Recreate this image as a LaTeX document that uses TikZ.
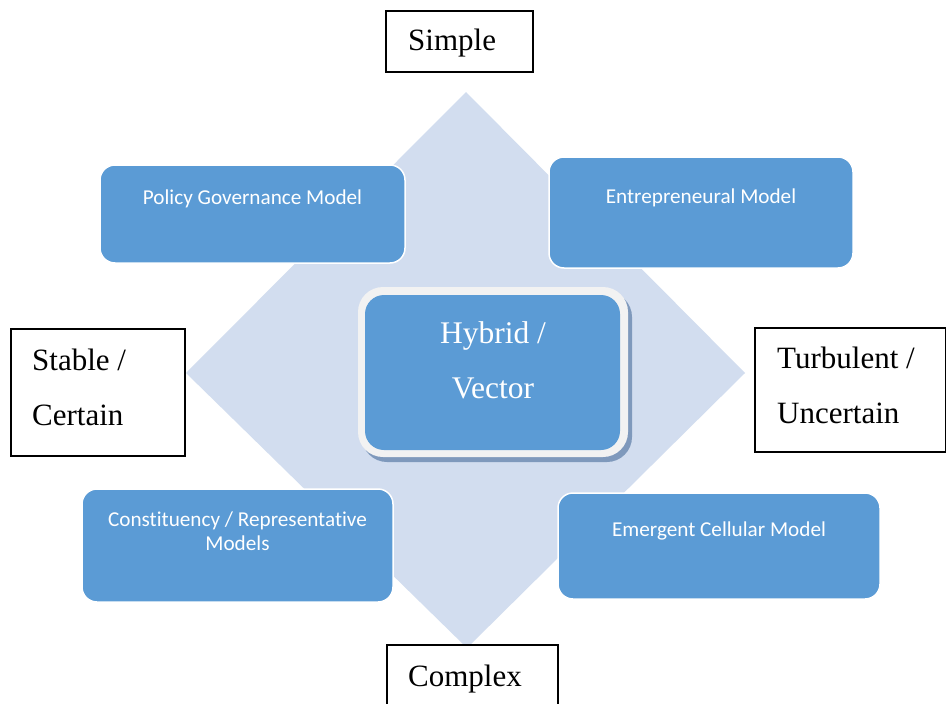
\documentclass[tikz,border=0pt]{standalone}
\usepackage{fontspec}
\setmainfont{Liberation Serif}
\newfontfamily\calib[Ligatures=NoCommon]{Carlito}
\definecolor{boxblue}{HTML}{5B9BD5}
\definecolor{diamondblue}{HTML}{D2DDEF}
\definecolor{shadowblue}{HTML}{7F99BC}
\definecolor{rimwhite}{HTML}{F2F2F2}
\tikzset{
  modelbox/.style={rectangle, rounded corners=15pt, fill=boxblue, draw=white, line width=1.5pt, inner sep=0pt},
  modeltext/.style={font=\calib\fontsize{21.2}{24}\selectfont, text=white, align=center, inner sep=0pt},
  labelbox/.style={rectangle, draw=black, line width=1.3pt, fill=white, inner sep=0pt},
  labeltext/.style={font=\fontsize{31}{55}\selectfont, align=left, inner sep=0pt, anchor=west},
  centertext/.style={font=\fontsize{31.5}{55}\selectfont, text=white, align=center, inner sep=0pt}
}
\begin{document}
\begin{tikzpicture}[x=1pt,y=-1pt]
\clip (0,0) rectangle (946,704);
\fill[white] (0,0) rectangle (946,704);
% diamond
\fill[diamondblue] (466,92) -- (745,373) -- (467,648) -- (186,373) -- cycle;
% model boxes
\node[modelbox, minimum width=305pt, minimum height=98pt] (pg) at (252.5,214) {};
\node[modeltext] (pgt) at (252.5,199) {Policy Governance Model};
\node[modelbox, minimum width=304pt, minimum height=111pt] (en) at (701,212.5) {};
\node[modeltext] (ent) at (701,198) {Entrepreneural Model};
\node[modelbox, minimum width=311pt, minimum height=113pt] (co) at (237.5,545.5) {};
\node[modeltext] (cot) at (237.5,531) {Constituency / Representative\\Models};
\node[modelbox, minimum width=322pt, minimum height=106pt] (em) at (719,546) {};
\node[modeltext] (emt) at (719,531) {Emergent Cellular Model};
% centre box
\node[rectangle, rounded corners=25pt, fill=shadowblue, minimum width=270pt, minimum height=170pt, inner sep=0pt] (hvs) at (497,377) {};
\node[rectangle, rounded corners=25pt, fill=rimwhite, minimum width=270pt, minimum height=170pt, inner sep=0pt] (hvo) at (493,372) {};
\node[rectangle, rounded corners=19pt, fill=boxblue, minimum width=255pt, minimum height=155pt, inner sep=0pt] (hv) at (492.5,372.5) {};
\node[centertext] (hvt) at (493,360) {Hybrid /\\Vector};
% label boxes
\node[labelbox, minimum width=147pt, minimum height=61pt] (simple) at (459.5,41.5) {};
\node[labeltext] (simplet) at (408,43) {Simple};
\node[labelbox, minimum width=174pt, minimum height=127pt] (stable) at (98,392.5) {};
\node[labeltext] (stablet) at (32,387) {Stable /\\Certain};
\node[labelbox, minimum width=191pt, minimum height=124pt] (turb) at (850.5,390) {};
\node[labeltext] (turbt) at (777,385) {Turbulent /\\Uncertain};
\node[labelbox, minimum width=171pt, minimum height=90pt] (complex) at (472.5,690) {};
\node[labeltext] (complext) at (408,679) {Complex};
\end{tikzpicture}
\end{document}
